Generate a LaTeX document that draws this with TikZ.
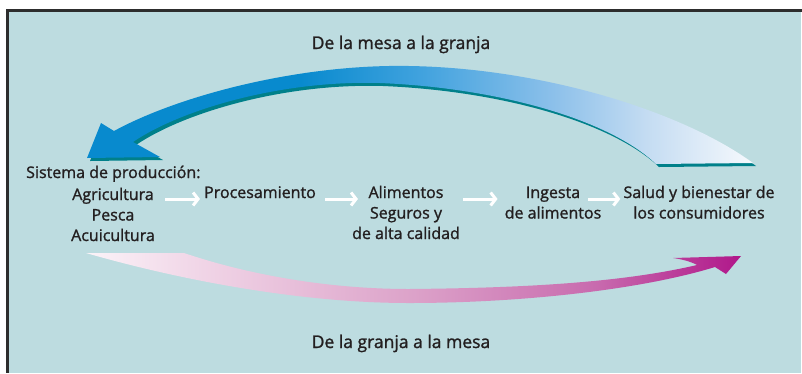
\documentclass[tikz,border=0pt]{standalone}
\usepackage{fontspec}
\setmainfont{Open Sans}[FakeBold=1.3]
\usetikzlibrary{arrows.meta,calc}
\definecolor{bg}{RGB}{189,220,224}
\definecolor{framec}{RGB}{45,45,45}
\definecolor{txt}{RGB}{35,31,32}
\definecolor{shadowteal}{RGB}{0,128,138}
\definecolor{bA}{RGB}{8,138,206}
\definecolor{bB}{RGB}{64,162,222}
\definecolor{bC}{RGB}{140,192,234}
\definecolor{bD}{RGB}{196,220,242}
\definecolor{bE}{RGB}{246,249,253}
\definecolor{pA}{RGB}{251,243,248}
\definecolor{pB}{RGB}{240,212,230}
\definecolor{pC}{RGB}{220,162,201}
\definecolor{pD}{RGB}{200,106,174}
\definecolor{pE}{RGB}{176,23,138}
\pgfdeclarehorizontalshading{blueband}{100bp}{color(0bp)=(bA); color(25bp)=(bA); color(41bp)=(bA); color(50bp)=(bB); color(60bp)=(bC); color(67bp)=(bD); color(75bp)=(bE); color(100bp)=(bE)}
\pgfdeclarehorizontalshading{pinkband}{100bp}{color(0bp)=(pA); color(25bp)=(pA); color(34bp)=(pB); color(50bp)=(pC); color(64bp)=(pD); color(75bp)=(pE); color(100bp)=(pE)}
\tikzset{
  lbl/.style={font=\fontsize{16}{20.5}\selectfont, text=txt, inner sep=0pt, align=center},
  ttl/.style={font=\fontsize{17.5}{20}\selectfont, text=txt, inner sep=0pt},
  warrow/.style={white, line width=3pt, -{Straight Barb[length=5pt,width=13pt]}}
}
\begin{document}
\begin{tikzpicture}[x=1pt,y=-1pt]
\useasboundingbox (0,0) rectangle (802,373);
\fill[white] (0,0) rectangle (802,373);
\fill[bg] (9,12) rectangle (801,373);
\fill[framec] (6,9) rectangle (802,12);
\fill[framec] (6,9) rectangle (9,373);

% blue arrow: shadow then body
\fill[shadowteal, shift={(3,3)}]
  (656,164) .. controls (610,120) and (500,88) .. (380,83)
  .. controls (280,80) and (180,110) .. (133,142)
  -- (160,157) -- (87,158) -- (101,123) -- (114,131)
  .. controls (180,95) and (300,64) .. (409,66)
  .. controls (540,68) and (680,110) .. (753,163) -- cycle;
\shade[shading=blueband]
  (656,164) .. controls (610,120) and (500,88) .. (380,83)
  .. controls (280,80) and (180,110) .. (133,142)
  -- (160,157) -- (87,158) -- (101,123) -- (114,131)
  .. controls (180,95) and (300,64) .. (409,66)
  .. controls (540,68) and (680,110) .. (753,163) -- cycle;

% pink arrow
\shade[shading=pinkband]
  (86,253) -- (184,253)
  .. controls (240,272) and (320,289) .. (409,289)
  .. controls (520,288) and (620,283) .. (697,265)
  .. controls (690,261) and (680,259) .. (673,258)
  -- (741,256) -- (726,274) -- (715,267)
  .. controls (640,290) and (520,303) .. (409,303)
  .. controls (300,303) and (180,280) .. cycle;

% titles
\node[ttl, anchor=base] (top) at (401,49) {De la mesa a la granja};
\node[ttl, anchor=base] (bot) at (401,348) {De la granja a la mesa};

% chain (base anchor = baseline of the last line)
\node[lbl, anchor=base west] (sist) at (26,178) {Sistema de producción:};
\node[lbl, anchor=base] (agri) at (113,241) {Agricultura\\Pesca\\Acuicultura};
\node[lbl, anchor=base] (proc) at (260,198) {Procesamiento};
\node[lbl, anchor=base] (alim) at (406,239) {Alimentos\\Seguros y\\de alta calidad};
\node[lbl, anchor=base] (inge) at (553,218.5) {Ingesta\\de alimentos};
\node[lbl, anchor=base] (salud) at (699,218.5) {Salud y bienestar de\\los consumidores};

\draw[warrow] ($(agri.east |- proc.base)+(10,1)$) -- ($(proc.base west)+(-4,1)$);
\draw[warrow] ($(proc.base east)+(9,1)$) -- ($(alim.west |- proc.base)+(6,1)$);
\draw[warrow] ($(alim.east |- proc.base)+(3,1)$) -- ($(inge.west |- proc.base)+(-7,1)$);
\draw[warrow] ($(inge.east |- proc.base)+(-13,1)$) -- ($(salud.west |- proc.base)+(-3,1)$);
\end{tikzpicture}
\end{document}
